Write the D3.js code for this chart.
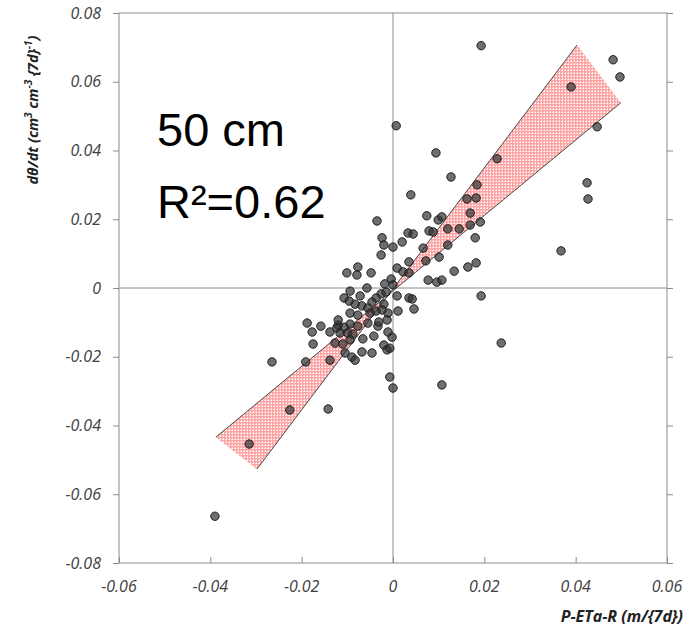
<!DOCTYPE html>
<html>
<head>
<meta charset="utf-8">
<script src="https://cdn.jsdelivr.net/npm/d3@7"></script>
<style>
  html, body { margin: 0; padding: 0; background: #fff; }
  svg { display: block; }
</style>
</head>
<body>
<svg width="695" height="627" viewBox="0 0 695 627"></svg>
<script>
// observed weekly change in soil water vs. net input (P - ETa - R)
const xValues = [
  0.0193, 0.0482, 0.0497, 0.0390, 0.0447, 0.0007, 0.0094, 0.0228, 0.0127, 0.0425,
  0.0427, 0.0039, 0.0184, 0.0162, 0.0182, 0.0169, 0.0074, 0.0099, 0.0107, 0.0191,
  0.0169, 0.0120, 0.0145, 0.0079, 0.0088, 0.0033, 0.0044, 0.0180, -0.0024, 0.0020,
  -0.0020, 0.0000, 0.0066, 0.0120, -0.0026, 0.0101, 0.0035, 0.0072, 0.0368, 0.0009,
  0.0022, 0.0035, 0.0134, 0.0164, 0.0182, 0.0077, 0.0096, 0.0107, -0.0004, -0.0018,
  0.0000, 0.0193, 0.0009, 0.0035, 0.0042, 0.0046, 0.0011, -0.0011, 0.0237, 0.0107,
  -0.0002, 0.0000, -0.0007, -0.0035, -0.0077, -0.0079, -0.0101, -0.0048, -0.0057, -0.0094,
  -0.0026, -0.0015, -0.0072, -0.0107, -0.0096, -0.0037, -0.0046, -0.0020, -0.0083, -0.0068,
  -0.0055, -0.0094, -0.0077, -0.0050, -0.0037, -0.0024, -0.0013, -0.0094, -0.0120, -0.0107,
  -0.0077, -0.0055, -0.0033, -0.0188, -0.0158, -0.0177, -0.0138, -0.0123, -0.0116, -0.0120,
  -0.0099, -0.0088, -0.0066, -0.0042, -0.0011, -0.0094, -0.0175, -0.0127, -0.0110, -0.0068,
  -0.0105, -0.0090, -0.0083, -0.0020, -0.0013, -0.0007, -0.0138, -0.0191, -0.0265, -0.0046,
  -0.0315, -0.0226, -0.0142, -0.0390, -0.0031
]
const yValues = [
  0.0705, 0.0664, 0.0614, 0.0585, 0.0469, 0.0472, 0.0393, 0.0376, 0.0323, 0.0306,
  0.0259, 0.0271, 0.0300, 0.0259, 0.0262, 0.0218, 0.0210, 0.0198, 0.0207, 0.0192,
  0.0183, 0.0172, 0.0172, 0.0166, 0.0163, 0.0160, 0.0157, 0.0146, 0.0146, 0.0134,
  0.0125, 0.0119, 0.0116, 0.0125, 0.0096, 0.0090, 0.0076, 0.0079, 0.0108, 0.0058,
  0.0047, 0.0044, 0.0049, 0.0061, 0.0073, 0.0023, 0.0017, 0.0023, 0.0026, 0.0012,
  0.0009, -0.0023, -0.0023, -0.0029, -0.0032, -0.0061, -0.0067, -0.0073, -0.0160, -0.0282,
  -0.0143, -0.0291, -0.0259, 0.0195, 0.0061, 0.0038, 0.0044, 0.0044, 0.0000, -0.0009,
  -0.0017, -0.0012, -0.0023, -0.0029, -0.0038, -0.0029, -0.0041, -0.0047, -0.0047, -0.0052,
  -0.0058, -0.0073, -0.0079, -0.0073, -0.0067, -0.0064, -0.0093, -0.0105, -0.0108, -0.0114,
  -0.0111, -0.0102, -0.0111, -0.0102, -0.0111, -0.0128, -0.0128, -0.0116, -0.0131, -0.0093,
  -0.0131, -0.0134, -0.0148, -0.0140, -0.0128, -0.0151, -0.0163, -0.0160, -0.0163, -0.0186,
  -0.0189, -0.0201, -0.0210, -0.0166, -0.0180, -0.0175, -0.0210, -0.0215, -0.0215, -0.0189,
  -0.0454, -0.0355, -0.0352, -0.0664, -0.0099
]

// confidence wedge: the two bounding lines, each as [start, end] in data units
const steepLine = [[-0.0298, -0.0527], [0.0403, 0.0707]]
const shallowLine = [[-0.0388, -0.0434], [0.0499, 0.0539]]

const xTicks = [-0.06, -0.04, -0.02, 0, 0.02, 0.04, 0.06]
const yTicks = [-0.08, -0.06, -0.04, -0.02, 0, 0.02, 0.04, 0.06, 0.08]
const depthLabel = '50 cm'
const r2Label = 'R²=0.62'

const svg = d3.select('svg')
const plot = { left: 119, right: 667, top: 13, bottom: 563 }
const axisColor = '#8c8c8c'
const tickFont = "'Open Sans', sans-serif"
const fmt = d => d === 0 ? '0' : d3.format('.2f')(d).replace('\u2212', '-')

const x = d3.scaleLinear().domain([-0.06, 0.06]).range([plot.left, plot.right])
const y = d3.scaleLinear().domain([-0.08, 0.08]).range([plot.bottom, plot.top])

svg.append('rect').attr('width', 695).attr('height', 627).attr('fill', '#fff')

// pink dotted fill for the wedge
const defs = svg.append('defs')
const pat = defs.append('pattern')
  .attr('id', 'pinkDots')
  .attr('patternUnits', 'userSpaceOnUse')
  .attr('width', 3).attr('height', 3)
pat.append('rect').attr('width', 3).attr('height', 3).attr('fill', '#fda4a4')
pat.append('rect').attr('x', 1).attr('y', 1).attr('width', 1).attr('height', 1).attr('fill', '#fff')
pat.append('rect').attr('x', 0).attr('y', 1).attr('width', 1).attr('height', 1).attr('fill', '#fdd')
pat.append('rect').attr('x', 1).attr('y', 0).attr('width', 1).attr('height', 1).attr('fill', '#fdd')

// frame
svg.append('rect')
  .attr('x', plot.left).attr('y', plot.top)
  .attr('width', plot.right - plot.left).attr('height', plot.bottom - plot.top)
  .attr('fill', 'none').attr('stroke', axisColor).attr('stroke-width', 1)

// zero cross lines
svg.append('line')
  .attr('x1', x(0)).attr('x2', x(0)).attr('y1', plot.top).attr('y2', plot.bottom)
  .attr('stroke', axisColor)
svg.append('line')
  .attr('x1', plot.left).attr('x2', plot.right).attr('y1', y(0)).attr('y2', y(0))
  .attr('stroke', axisColor)

// left axis (ticks outward), right side ticks outward, bottom ticks inward
const yAxis = d3.axisLeft(y).tickValues(yTicks).tickSize(6).tickPadding(12).tickFormat(fmt)
const gy = svg.append('g').attr('transform', `translate(${plot.left},0)`).call(yAxis)
gy.select('.domain').remove()

const yAxisR = d3.axisRight(y).tickValues(yTicks).tickSize(6).tickFormat('')
const gyr = svg.append('g').attr('transform', `translate(${plot.right},0)`).call(yAxisR)
gyr.select('.domain').remove()

const xAxis = d3.axisTop(x).tickValues(xTicks).tickSize(6).tickFormat('')
const gx = svg.append('g').attr('transform', `translate(0,${plot.bottom})`).call(xAxis)
gx.select('.domain').remove()

svg.selectAll('.tick line').attr('stroke', axisColor)
gy.selectAll('.tick text')
  .attr('font-family', tickFont).attr('font-style', 'italic')
  .attr('font-size', 16).attr('fill', '#404040')

svg.append('g').selectAll('text')
  .data(xTicks)
  .join('text')
  .attr('x', d => x(d))
  .attr('y', plot.bottom + 29)
  .attr('text-anchor', 'middle')
  .attr('font-family', tickFont).attr('font-style', 'italic')
  .attr('font-size', 16).attr('fill', '#404040')
  .text(fmt)

// wedge
const lineParams = (seg) => {
  const m = (seg[1][1] - seg[0][1]) / (seg[1][0] - seg[0][0])
  return { m, b: seg[0][1] - m * seg[0][0] }
}
const a = lineParams(steepLine)
const b = lineParams(shallowLine)
const cx = (b.b - a.b) / (a.m - b.m)
const cross = [cx, a.m * cx + a.b]

const wedges = [
  [cross, steepLine[1], shallowLine[1]],
  [cross, steepLine[0], shallowLine[0]]
]
svg.append('g').selectAll('path')
  .data(wedges)
  .join('path')
  .attr('d', d => d3.line().x(p => x(p[0])).y(p => y(p[1]))(d) + 'Z')
  .attr('fill', 'url(#pinkDots)')

svg.append('g').selectAll('line')
  .data([steepLine, shallowLine])
  .join('line')
  .attr('x1', d => x(d[0][0])).attr('y1', d => y(d[0][1]))
  .attr('x2', d => x(d[1][0])).attr('y2', d => y(d[1][1]))
  .attr('stroke', '#4a4a4a').attr('stroke-width', 1)

// points
svg.append('g').selectAll('circle')
  .data(d3.zip(xValues, yValues))
  .join('circle')
  .attr('cx', d => x(d[0]))
  .attr('cy', d => y(d[1]))
  .attr('r', 4.2)
  .attr('fill', 'rgba(50,50,50,0.7)')
  .attr('stroke', '#1e1e1e')
  .attr('stroke-width', 1)

// annotations
svg.append('text')
  .attr('x', 157).attr('y', 146)
  .attr('font-family', "'Liberation Sans', Arial, sans-serif")
  .attr('font-size', 47).attr('fill', '#000')
  .text(depthLabel)
svg.append('text')
  .attr('x', 157).attr('y', 218)
  .attr('font-family', "'Liberation Sans', Arial, sans-serif")
  .attr('font-size', 47).attr('fill', '#000')
  .text(r2Label)

// axis titles
svg.append('text')
  .attr('x', 683).attr('y', 622)
  .attr('text-anchor', 'end')
  .attr('font-family', tickFont).attr('font-style', 'italic').attr('font-weight', 'bold')
  .attr('font-size', 16).attr('fill', '#222')
  .text('P-ETa-R (m/{7d})')

const yTitle = svg.append('text')
  .attr('transform', 'translate(38,110) rotate(-90)')
  .attr('text-anchor', 'middle')
  .attr('font-family', tickFont).attr('font-style', 'italic').attr('font-weight', 'bold')
  .attr('font-size', 14.5).attr('fill', '#222')
yTitle.append('tspan').text('dθ/dt (cm')
yTitle.append('tspan').attr('dy', -6).attr('font-size', 10).text('3')
yTitle.append('tspan').attr('dy', 6).text(' cm')
yTitle.append('tspan').attr('dy', -6).attr('font-size', 10).text('-3')
yTitle.append('tspan').attr('dy', 6).text(' {7d}')
yTitle.append('tspan').attr('dy', -6).attr('font-size', 10).text('-1')
yTitle.append('tspan').attr('dy', 6).text(')')
</script>
</body>
</html>
